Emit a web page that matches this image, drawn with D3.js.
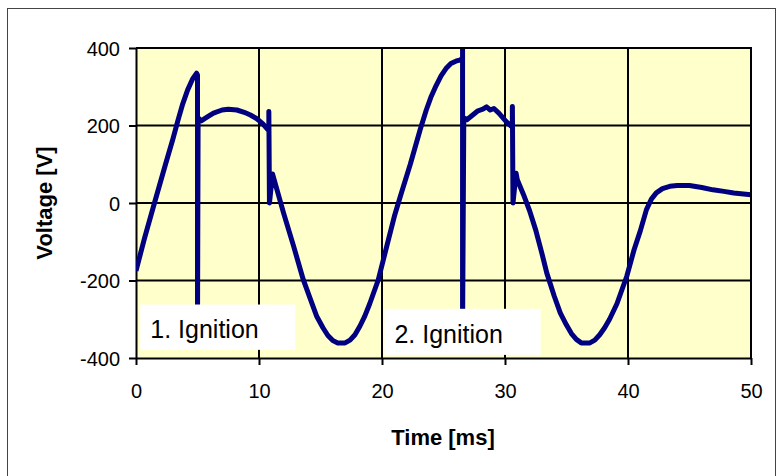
<!DOCTYPE html>
<html>
<head>
<meta charset="utf-8">
<script src="https://cdn.jsdelivr.net/npm/d3@7/dist/d3.min.js"></script>
<style>
  body { margin: 0; background: #fff; }
  svg { display: block; font-family: "Liberation Sans", Arial, sans-serif; }
</style>
</head>
<body>
<svg id="chart"></svg>
<script>
const timeMs = [0, 0.7, 1.5, 2.4, 3.0, 3.4, 3.8, 4.2, 4.6, 4.93, 5.0, 5.0, 5.05, 5.3, 5.8, 6.3, 7.0, 7.5, 8.2, 8.8, 9.3, 9.8,
  10.3, 10.7, 10.8, 10.8, 10.85, 11.1, 11.5, 12.0, 12.8, 13.6, 14.2, 14.7, 15.2, 15.6, 16.0, 16.4, 17.0, 17.4, 17.8, 18.2,
  18.6, 19.0, 19.7, 20.4, 21.0, 21.5, 22.3, 23.1, 23.6, 24.0, 24.4, 24.8, 25.2, 25.6, 26.0, 26.3, 26.55, 26.55, 26.55,
  26.65, 26.9, 27.3, 27.8, 28.2, 28.5, 28.8, 29.1, 29.5, 30.1, 30.5, 30.6, 30.6, 30.65, 30.9, 31.0, 31.5, 32.0, 32.5, 33.0,
  33.4, 34.0, 34.5, 35.0, 35.4, 35.8, 36.2, 36.9, 37.3, 37.7, 38.1, 38.5, 39.1, 39.9, 40.5, 41.0, 41.5, 41.9, 42.3, 42.8,
  43.4, 44.0, 45.0, 46.0, 46.9, 47.8, 48.6, 50];
const voltage = [-175, -90, 0, 100, 165, 212, 256, 292, 320, 335, 330, -330, 220, 212, 222, 232, 240, 242, 240, 234, 227, 218,
  205, 190, 190, 236, 0, 75, 30, -26, -110, -198, -250, -293, -322, -342, -355, -361, -361, -354, -340, -318,
  -292, -260, -198, -110, -35, 18, 100, 189, 240, 275, 303, 328, 347, 360, 366, 369, 372, 400, -330,
  220, 215, 225, 238, 242, 248, 240, 244, 232, 210, 198, 198, 249, 0, 77, 60, 22, -20, -70, -130,
  -181, -240, -284, -315, -337, -352, -361, -361, -354, -340, -322, -300, -260, -189, -120, -72, -17, 10, 26, 37,
  43, 45, 45, 40, 34, 30, 26, 21];

const xTicks = [0, 10, 20, 30, 40, 50];
const yTicks = [-400, -200, 0, 200, 400];
const ignitionLabels = ["1. Ignition", "2. Ignition"];

const W = 778, H = 476;
const margin = { top: 48, right: 27, bottom: 118, left: 136 };
const width = W - margin.left - margin.right;
const height = H - margin.top - margin.bottom;

const svg = d3.select("#chart").attr("width", W).attr("height", H);

// outer frame
svg.append("rect")
  .attr("x", 7.5).attr("y", 8.5)
  .attr("width", 768).attr("height", 470)
  .attr("fill", "none").attr("stroke", "#444").attr("stroke-width", 1);

const g = svg.append("g").attr("transform", `translate(${margin.left},${margin.top})`);

const x = d3.scaleLinear().domain([0, 50]).range([0, width]);
const y = d3.scaleLinear().domain([-400, 400]).range([height, 0]);

// plot background
g.append("rect").attr("width", width).attr("height", height).attr("fill", "#ffffcc");

// grid
g.append("g").selectAll("line").data(xTicks.slice(1)).join("line")
  .attr("x1", d => x(d)).attr("x2", d => x(d)).attr("y1", 0).attr("y2", height)
  .attr("stroke", "#000").attr("stroke-width", 2);
g.append("g").selectAll("line").data(yTicks.slice(1)).join("line")
  .attr("x1", 0).attr("x2", width).attr("y1", d => y(d)).attr("y2", d => y(d))
  .attr("stroke", "#000").attr("stroke-width", 2);

// axes (plain hyphen for negatives, like the original)
const xAxis = g.append("g")
  .attr("transform", `translate(0,${height})`)
  .call(d3.axisBottom(x).tickValues(xTicks).tickFormat(d => String(d))
    .tickSize(7).tickSizeOuter(0).tickPadding(19));
const yAxis = g.append("g")
  .call(d3.axisLeft(y).tickValues(yTicks).tickFormat(d => String(d))
    .tickSize(7).tickSizeOuter(0).tickPadding(9));

[xAxis, yAxis].forEach(a => {
  a.select(".domain").attr("stroke", "#000").attr("stroke-width", 2);
  a.selectAll(".tick line").attr("stroke", "#000").attr("stroke-width", 2);
  a.selectAll(".tick text")
    .attr("fill", "#000")
    .style("font-size", "20px")
    .style("font-family", "Liberation Sans, Arial, sans-serif");
});
yAxis.selectAll(".tick text").attr("dy", "0.35em");

// clip for the trace
svg.append("defs").append("clipPath").attr("id", "plotClip")
  .append("rect").attr("width", width).attr("height", height);

const line = d3.line()
  .x((d, i) => x(timeMs[i]))
  .y(d => y(d));

g.append("path")
  .datum(voltage)
  .attr("clip-path", "url(#plotClip)")
  .attr("d", line)
  .attr("fill", "none")
  .attr("stroke", "#000080")
  .attr("stroke-width", 5)
  .attr("stroke-linejoin", "round");

// ignition labels (white boxes over the trace)
const boxes = [
  { t0: 0.35, t1: 12.95, v0: -262, v1: -379 },
  { t0: 20.2, t1: 32.9, v0: -273, v1: -392 }
];
ignitionLabels.forEach((txt, i) => {
  const b = boxes[i];
  g.append("rect")
    .attr("x", x(b.t0)).attr("y", y(b.v0))
    .attr("width", x(b.t1) - x(b.t0)).attr("height", y(b.v1) - y(b.v0))
    .attr("fill", "#fff");
  g.append("text")
    .attr("x", x(b.t0) + 10)
    .attr("y", (y(b.v0) + y(b.v1)) / 2 + 2)
    .attr("dy", "0.36em")
    .style("font-size", "25px")
    .attr("fill", "#000")
    .text(txt);
});

// plot top / right border
g.append("path")
  .attr("d", `M0,0H${width}V${height}`)
  .attr("fill", "none").attr("stroke", "#000").attr("stroke-width", 2);

// axis titles
svg.append("text")
  .attr("x", 443)
  .attr("y", 445)
  .attr("text-anchor", "middle")
  .style("font-size", "22px").style("font-weight", "bold")
  .text("Time [ms]");

svg.append("text")
  .attr("transform", `translate(52,${margin.top + height / 2}) rotate(-90)`)
  .attr("text-anchor", "middle")
  .style("font-size", "22px").style("font-weight", "bold")
  .text("Voltage [V]");
</script>
</body>
</html>
